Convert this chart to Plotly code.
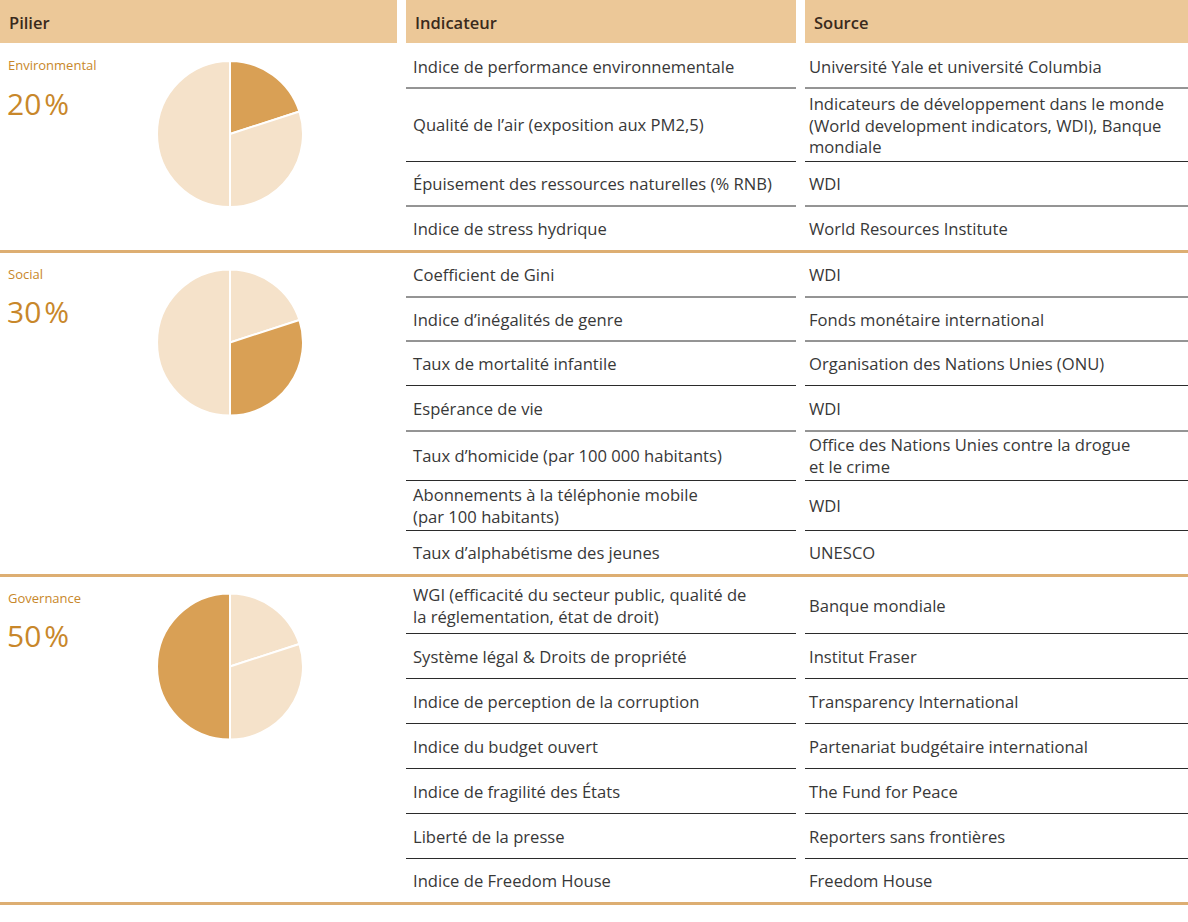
import plotly.graph_objects as go

# ---------------- data ----------------
headers = ["Pilier", "Indicateur", "Source"]
pillars = ["Environmental", "Social", "Governance"]
weights = [20, 30, 50]

env_indicators = [
    "Indice de performance environnementale",
    "Qualité de l’air (exposition aux PM2,5)",
    "Épuisement des ressources naturelles (% RNB)",
    "Indice de stress hydrique",
]
env_sources = [
    "Université Yale et université Columbia",
    "Indicateurs de développement dans le monde<br>(World development indicators, WDI), Banque<br>mondiale",
    "WDI",
    "World Resources Institute",
]
soc_indicators = [
    "Coefficient de Gini",
    "Indice d’inégalités de genre",
    "Taux de mortalité infantile",
    "Espérance de vie",
    "Taux d’homicide (par 100 000 habitants)",
    "Abonnements à la téléphonie mobile<br>(par 100 habitants)",
    "Taux d’alphabétisme des jeunes",
]
soc_sources = [
    "WDI",
    "Fonds monétaire international",
    "Organisation des Nations Unies (ONU)",
    "WDI",
    "Office des Nations Unies contre la drogue<br>et le crime",
    "WDI",
    "UNESCO",
]
gov_indicators = [
    "WGI (efficacité du secteur public, qualité de<br>la réglementation, état de droit)",
    "Système légal & Droits de propriété",
    "Indice de perception de la corruption",
    "Indice du budget ouvert",
    "Indice de fragilité des États",
    "Liberté de la presse",
    "Indice de Freedom House",
]
gov_sources = [
    "Banque mondiale",
    "Institut Fraser",
    "Transparency International",
    "Partenariat budgétaire international",
    "The Fund for Peace",
    "Reporters sans frontières",
    "Freedom House",
]
indicators = [env_indicators, soc_indicators, gov_indicators]
sources = [env_sources, soc_sources, gov_sources]

# ---------------- layout / style ----------------
W, H = 1188, 922
HEADER_FILL = "#ECC898"
HEADER_TXT = "#3a2a1c"
TAN_LINE = "#DDAE72"
DARK = "#D9A055"
LIGHT = "#F5E2CA"
ACCENT_TXT = "#C8872A"
BODY_TXT = "#383838"
ROW_LINE = "#2b2b2b"
FONT = "Open Sans"
BODY_SIZE = 16.6

col_x = [(0, 397), (406, 796), (805, 1188)]
header_h = 43
# row heights per section (pixels)
row_heights = [
    [44, 73.5, 44.5, 45],
    [44.5, 44, 44.5, 45.5, 49.5, 50, 44.5],
    [57, 45, 45, 45, 45, 45, 44.5],
]
section_gap = 1.5
pie_r = 73
pie_cx = 230
pie_offset = 90  # pie centre distance from section top

fig = go.Figure()
# invisible trace so the pixel-unit cartesian axes exist
fig.add_trace(go.Scatter(x=[0, W], y=[0, H], mode="markers",
                         marker=dict(opacity=0), hoverinfo="skip", showlegend=False))
shapes = []
annotations = []

# header
for (x0, x1), h in zip(col_x, headers):
    shapes.append(dict(type="rect", xref="x", yref="y", x0=x0, x1=x1, y0=0, y1=header_h,
                       fillcolor=HEADER_FILL, line=dict(width=0), layer="below"))
    annotations.append(dict(xref="x", yref="y", x=x0 + 7, y=header_h / 2 + 1, text=h, showarrow=False,
                            xanchor="left", yanchor="middle",
                            font=dict(family=FONT, size=16.5, color=HEADER_TXT, weight=600)))

y = header_h + 1
for s, name in enumerate(pillars):
    top = y
    annotations.append(dict(xref="x", yref="y", x=6, y=top + 21, text=name, showarrow=False,
                            xanchor="left", yanchor="middle",
                            font=dict(family=FONT, size=13, color=ACCENT_TXT)))
    annotations.append(dict(xref="x", yref="y", x=5, y=top + 59, text=f"{weights[s]}\u200a%", showarrow=False,
                            xanchor="left", yanchor="middle",
                            font=dict(family=FONT, size=30, color=ACCENT_TXT)))
    cy = top + pie_offset
    fig.add_trace(go.Pie(
        values=weights, labels=pillars, sort=False, direction="clockwise", rotation=0,
        marker=dict(colors=[DARK if i == s else LIGHT for i in range(len(weights))],
                    line=dict(color="white", width=2)),
        textinfo="none", hoverinfo="label+value", showlegend=False,
        domain=dict(x=[(pie_cx - pie_r) / W, (pie_cx + pie_r) / W],
                    y=[1 - (cy + pie_r) / H, 1 - (cy - pie_r) / H]),
    ))
    n = len(indicators[s])
    for r in range(n):
        h = row_heights[s][r]
        mid = y + h / 2
        annotations.append(dict(xref="x", yref="y", x=col_x[1][0] + 5, y=mid, text=indicators[s][r],
                                showarrow=False, xanchor="left", yanchor="middle", align="left",
                                font=dict(family=FONT, size=BODY_SIZE, color=BODY_TXT)))
        annotations.append(dict(xref="x", yref="y", x=col_x[2][0] + 2, y=mid, text=sources[s][r],
                                showarrow=False, xanchor="left", yanchor="middle", align="left",
                                font=dict(family=FONT, size=BODY_SIZE, color=BODY_TXT)))
        y += h
        if r < n - 1:
            for (x0, x1) in col_x[1:]:
                shapes.append(dict(type="line", xref="x", yref="y", x0=x0, x1=x1, y0=y, y1=y,
                                   line=dict(color=ROW_LINE, width=1)))
    shapes.append(dict(type="line", xref="x", yref="y", x0=0, x1=W, y0=y + 0.5, y1=y + 0.5,
                       line=dict(color=TAN_LINE, width=3)))
    y += section_gap

fig.update_layout(
    width=W, height=H,
    margin=dict(l=0, r=0, t=0, b=0),
    paper_bgcolor="white", plot_bgcolor="white",
    xaxis=dict(range=[0, W], visible=False, fixedrange=True),
    yaxis=dict(range=[H, 0], visible=False, fixedrange=True),
    shapes=shapes, annotations=annotations,
    font=dict(family=FONT),
)
fig.write_html("out.html", config={"displayModeBar": False},
               post_script="document.body.style.margin='0';document.body.style.padding='0';")
